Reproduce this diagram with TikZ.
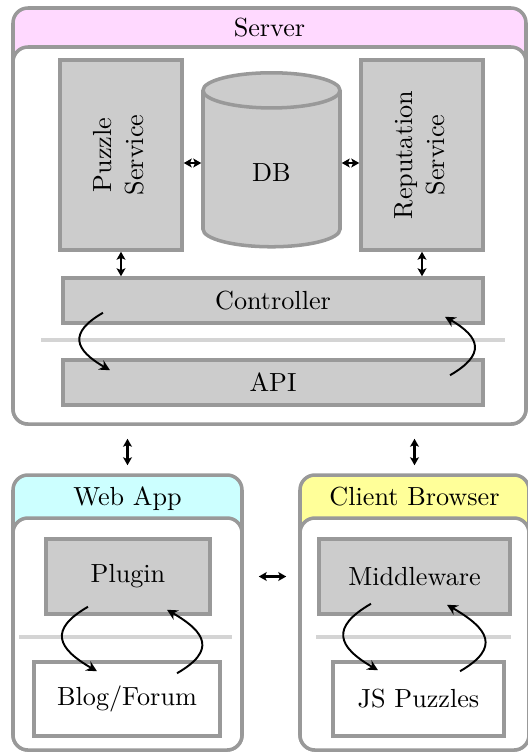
\documentclass[tikz,border=0pt]{standalone}
\usepackage{fontspec}
\setmainfont{lmroman10-regular}[Extension=.otf]
\usepackage{tikz}
\usetikzlibrary{positioning,arrows.meta,shapes.geometric,calc}
\definecolor{boxcol} {RGB}{204,204,204}
\definecolor{edgecol}{RGB}{153,153,153}
\definecolor{sepcol} {RGB}{212,212,212}
\definecolor{srvcol} {RGB}{255,217,255}
\definecolor{webcol} {RGB}{204,255,255}
\definecolor{clicol} {RGB}{255,255,153}
\begin{document}
\begin{tikzpicture}[
  font=\fontsize{14.9}{18.3}\selectfont,
  frame/.style={rectangle,rounded corners=8.5pt,draw=edgecol,line width=2pt},
  gbox/.style={rectangle,draw=edgecol,fill=boxcol,line width=2pt,align=center},
  wbox/.style={rectangle,draw=edgecol,fill=white,line width=2pt,align=center},
  sep/.style={draw=sepcol,line width=2pt},
  darr/.style={{Stealth[length=4.5pt,width=5pt,inset=1pt]}-{Stealth[length=4.5pt,width=5pt,inset=1pt]},
               line width=1.3pt},
  carr/.style={-{Stealth[length=6pt,width=6pt]},line width=1.1pt,looseness=1.8},
]
\useasboundingbox (0,0) rectangle (10.56,-15.06);
% server
\node[frame,fill=srvcol,minimum width=10.26cm,minimum height=8.32cm] (srv) at (5.39,-4.32) {};
\node[frame,fill=white,minimum width=10.26cm,minimum height=7.54cm] (srvin) at (5.39,-4.71) {};
\node[anchor=base] (srvt) at (5.39,-0.72) {Server};
\node[gbox,minimum width=2.44cm,minimum height=3.8cm] (pz) at (2.42,-3.10)
  {\rotatebox{90}{\begin{tabular}{c}Puzzle\\Service\end{tabular}}};
\node[gbox,cylinder,shape border rotate=90,aspect=0.7,
      minimum width=2.74cm,minimum height=3.48cm] (db) at (5.43,-3.46) {DB};
\node[gbox,minimum width=2.44cm,minimum height=3.8cm] (rp) at (8.44,-3.10)
  {\rotatebox{90}{\begin{tabular}{c}Reputation\\Service\end{tabular}}};
\node[gbox,minimum width=8.4cm,minimum height=0.9cm] (ctl) at (5.46,-6.01) {Controller};
\node[gbox,minimum width=8.4cm,minimum height=0.9cm] (api) at (5.46,-7.65) {API};
\coordinate (sl1) at (0.82,-6.8);
\coordinate (sr1) at (10.1,-6.8);
\draw[sep] (sl1) -- (sr1);
\draw[darr] ([yshift=-0.16cm]pz.east) -- ([yshift=-0.16cm]pz.east -| db.west);
\draw[darr] ([yshift=-0.16cm]rp.west -| db.east) -- ([yshift=-0.16cm]rp.west);
\draw[darr] (pz.south) -- (pz.south |- ctl.north);
\draw[darr] (rp.south) -- (rp.south |- ctl.north);
\draw[carr] ([xshift=-3.4cm,yshift=0.24cm]ctl.south) to[out=210,in=150]
  ([xshift=-3.26cm,yshift=-0.24cm]api.north);
\draw[carr] ([xshift=3.54cm,yshift=-0.34cm]api.north) to[out=30,in=-30]
  ([xshift=3.44cm,yshift=0.16cm]ctl.south);
% web app
\node[frame,fill=webcol,minimum width=4.58cm,minimum height=5.5cm] (web) at (2.55,-12.25) {};
\node[frame,fill=white,minimum width=4.58cm,minimum height=4.64cm] (webin) at (2.55,-12.68) {};
\node[anchor=base] (webt) at (2.55,-10.1) {Web App};
\node[gbox,minimum width=3.28cm,minimum height=1.5cm] (plg) at (2.56,-11.53) {Plugin};
\node[wbox,minimum width=3.72cm,minimum height=1.48cm] (blog) at (2.54,-13.98) {Blog/Forum};
\coordinate (sl2) at (0.38,-12.74);
\coordinate (sr2) at (4.64,-12.74);
\draw[sep] (sl2) -- (sr2);
\draw[carr] ([xshift=-0.8cm,yshift=0.18cm]plg.south) to[out=210,in=150]
  ([xshift=-0.6cm,yshift=-0.22cm]blog.north);
\draw[carr] ([xshift=1.0cm,yshift=-0.26cm]blog.north) to[out=30,in=-30]
  ([xshift=0.78cm,yshift=0.12cm]plg.south);
% client browser
\node[frame,fill=clicol,minimum width=4.58cm,minimum height=5.5cm] (cli) at (8.29,-12.25) {};
\node[frame,fill=white,minimum width=4.58cm,minimum height=4.64cm] (cliin) at (8.29,-12.68) {};
\node[anchor=base] (clit) at (8.29,-10.1) {Client Browser};
\node[gbox,minimum width=3.82cm,minimum height=1.5cm] (mw) at (8.29,-11.53) {Middleware};
\node[wbox,minimum width=3.42cm,minimum height=1.48cm] (js) at (8.37,-13.98) {JS Puzzles};
\coordinate (sl3) at (6.32,-12.74);
\coordinate (sr3) at (10.22,-12.74);
\draw[sep] (sl3) -- (sr3);
\draw[carr] ([xshift=-0.87cm,yshift=0.24cm]mw.south) to[out=210,in=150]
  ([xshift=-0.81cm,yshift=-0.2cm]js.north);
\draw[carr] ([xshift=0.83cm,yshift=-0.22cm]js.north) to[out=30,in=-30]
  ([xshift=0.65cm,yshift=0.22cm]mw.south);
% links between parts
\draw[darr,shorten <=0.26cm,shorten >=0.16cm] (web.north |- srv.south) -- (web.north);
\draw[darr,shorten <=0.26cm,shorten >=0.16cm] (cli.north |- srv.south) -- (cli.north);
\draw[darr,shorten <=0.3cm,shorten >=0.24cm] (web.east |- plg) -- (cli.west |- plg);
\end{tikzpicture}
\end{document}
